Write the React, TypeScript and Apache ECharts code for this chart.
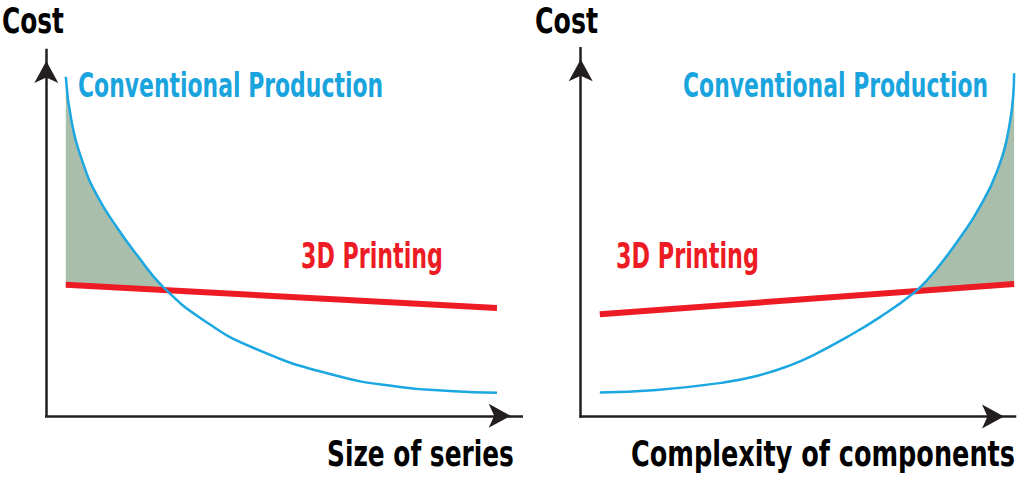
import React, { useEffect, useRef } from "react";
import * as echarts from "echarts";

// values, both axes are 0..100 "cost index" units
const LEFT_BLUE_X = [4.1, 5.3, 7.8, 10.6, 14.8, 19.0, 24.6, 33.0, 43.5, 60.3, 74.4, 84.9, 94.8];
const LEFT_BLUE_Y = [92.7, 80.6, 68.8, 60.4, 51.6, 44.1, 35.2, 26.2, 18.6, 11.2, 7.9, 6.8, 6.3];
const LEFT_RED_X = [4.1, 94.8];
const LEFT_RED_Y = [35.8, 29.5];

const RIGHT_BLUE_X = [4.4, 17.5, 32.8, 40.5, 48.2, 53.6, 61.2, 68.9, 76.6, 80.4, 84.3, 87.3, 91.2, 95.8, 98.8, 99.8];
const RIGHT_BLUE_Y = [6.5, 7.2, 9.2, 11.0, 13.9, 16.7, 21.5, 27.0, 33.5, 37.9, 43.6, 48.5, 55.5, 66.4, 79.7, 93.2];
const RIGHT_RED_X = [4.4, 99.8];
const RIGHT_RED_Y = [27.8, 36.0];

const Y_TITLE = "Cost";
const LEFT_X_TITLE = "Size of series";
const RIGHT_X_TITLE = "Complexity of components";
const BLUE_NAME = "Conventional Production";
const RED_NAME = "3D Printing";

const BLUE = "#1ba7e1";
const BLUE_TEXT = "#1aa4de";
const RED = "#ed1c24";
const SHADE = "#aabfab";
const AXIS = "#231f20";
const FONT = "'Liberation Sans Narrow', 'DejaVu Sans Condensed', Roboto, sans-serif";

const zip = (xs: number[], ys: number[]) => xs.map((x, i) => [x, ys[i]]);

const redAt = (rx: number[], ry: number[], x: number) =>
  ry[0] + ((ry[1] - ry[0]) * (x - rx[0])) / (rx[1] - rx[0]);

// region where the conventional curve is above the 3D printing line
function shadePolygon(bx: number[], by: number[], rx: number[], ry: number[]) {
  const pts: number[][] = [];
  const diff = bx.map((x, i) => by[i] - redAt(rx, ry, x));
  if (diff[0] > 0) pts.push([bx[0], redAt(rx, ry, bx[0])]);
  for (let i = 0; i < bx.length; i++) {
    if (diff[i] > 0) pts.push([bx[i], by[i]]);
    if (i < bx.length - 1 && diff[i] > 0 !== diff[i + 1] > 0) {
      const t = diff[i] / (diff[i] - diff[i + 1]);
      const cx = bx[i] + t * (bx[i + 1] - bx[i]);
      pts.push([cx, redAt(rx, ry, cx)]);
    }
  }
  const last = bx.length - 1;
  if (diff[last] > 0) pts.push([bx[last], redAt(rx, ry, bx[last])]);
  return pts;
}

let measureCtx: CanvasRenderingContext2D | null = null;
function textWidth(text: string, size: number) {
  if (!measureCtx) measureCtx = document.createElement("canvas").getContext("2d");
  if (!measureCtx) return text.length * size * 0.45;
  measureCtx.font = `bold ${size}px ${FONT}`;
  return measureCtx.measureText(text).width;
}

// label squeezed to the width it has in the picture
function label(text: string, x: number, y: number, size: number, width: number, color: string) {
  return {
    type: "text",
    x,
    y,
    scaleX: width / textWidth(text, size),
    silent: true,
    style: {
      text,
      x: 0,
      y: 0,
      fill: color,
      fontSize: size,
      fontWeight: "bold",
      fontFamily: FONT,
      align: "left",
      verticalAlign: "middle",
    },
  };
}

function axisPair(i: number) {
  const line = {
    show: true,
    onZero: false,
    symbol: ["none", "arrow"],
    symbolSize: [18, 22],
    symbolOffset: [0, -11],
    lineStyle: { color: AXIS, width: 2.5, cap: "square" },
  };
  const common = {
    gridIndex: i,
    type: "value",
    min: 0,
    max: 100,
    axisLine: line,
    axisTick: { show: false },
    axisLabel: { show: false },
    splitLine: { show: false },
  };
  return { x: { ...common }, y: { ...common } };
}

export default function App() {
  const chartRef = useRef<HTMLDivElement>(null);

  useEffect(() => {
    if (!chartRef.current) return;
    const chart = echarts.init(chartRef.current, undefined, { renderer: "svg" });

    const leftShade = shadePolygon(LEFT_BLUE_X, LEFT_BLUE_Y, LEFT_RED_X, LEFT_RED_Y);
    const rightShade = shadePolygon(RIGHT_BLUE_X, RIGHT_BLUE_Y, RIGHT_RED_X, RIGHT_RED_Y);
    const a0 = axisPair(0);
    const a1 = axisPair(1);

    const shadeSeries = (i: number, poly: number[][]) => ({
      type: "custom",
      xAxisIndex: i,
      yAxisIndex: i,
      silent: true,
      z: 1,
      data: [[0, 0]],
      renderItem: (_params: any, api: any) => ({
        type: "polygon",
        shape: { points: poly.map((p) => api.coord(p)) },
        style: { fill: SHADE },
      }),
    });

    const lineSeries = (i: number, data: number[][], color: string, width: number, smooth: number, z: number) => ({
      type: "line",
      xAxisIndex: i,
      yAxisIndex: i,
      data,
      smooth,
      symbol: "none",
      silent: true,
      z,
      lineStyle: { color, width, cap: "butt" },
    });

    const option: any = {
      animation: false,
      backgroundColor: "#ffffff",
      grid: [
        { left: 46.3, top: 50, width: 475.4, height: 365.8 },
        { left: 580.7, top: 48.3, width: 434.3, height: 368.2 },
      ],
      xAxis: [a0.x, a1.x],
      yAxis: [a0.y, a1.y],
      series: [
        shadeSeries(0, leftShade),
        lineSeries(0, zip(LEFT_RED_X, LEFT_RED_Y), RED, 6, 0, 2),
        lineSeries(0, zip(LEFT_BLUE_X, LEFT_BLUE_Y), BLUE, 2.5, 0.5, 3),
        shadeSeries(1, rightShade),
        lineSeries(1, zip(RIGHT_RED_X, RIGHT_RED_Y), RED, 6, 0, 2),
        lineSeries(1, zip(RIGHT_BLUE_X, RIGHT_BLUE_Y), BLUE, 2.5, 0.5, 3),
      ],
      graphic: [
        label(Y_TITLE, 2, 21, 36, 62, "#000"),
        label(Y_TITLE, 535, 21, 36, 63, "#000"),
        label(BLUE_NAME, 78, 86, 34, 305, BLUE_TEXT),
        label(BLUE_NAME, 683, 86, 34, 305, BLUE_TEXT),
        label(RED_NAME, 301, 255.5, 35, 142, RED),
        label(RED_NAME, 616, 255.5, 35, 143, RED),
        label(LEFT_X_TITLE, 327, 454, 36, 187, "#000"),
        label(RIGHT_X_TITLE, 631, 454, 36, 384, "#000"),
      ],
    };

    chart.setOption(option);

    return () => {
      chart.dispose();
    };
  }, []);

  return (
    <div
      ref={chartRef}
      style={{ position: "fixed", left: 0, top: 0, width: 1024, height: 482, background: "#fff" }}
    />
  );
}
